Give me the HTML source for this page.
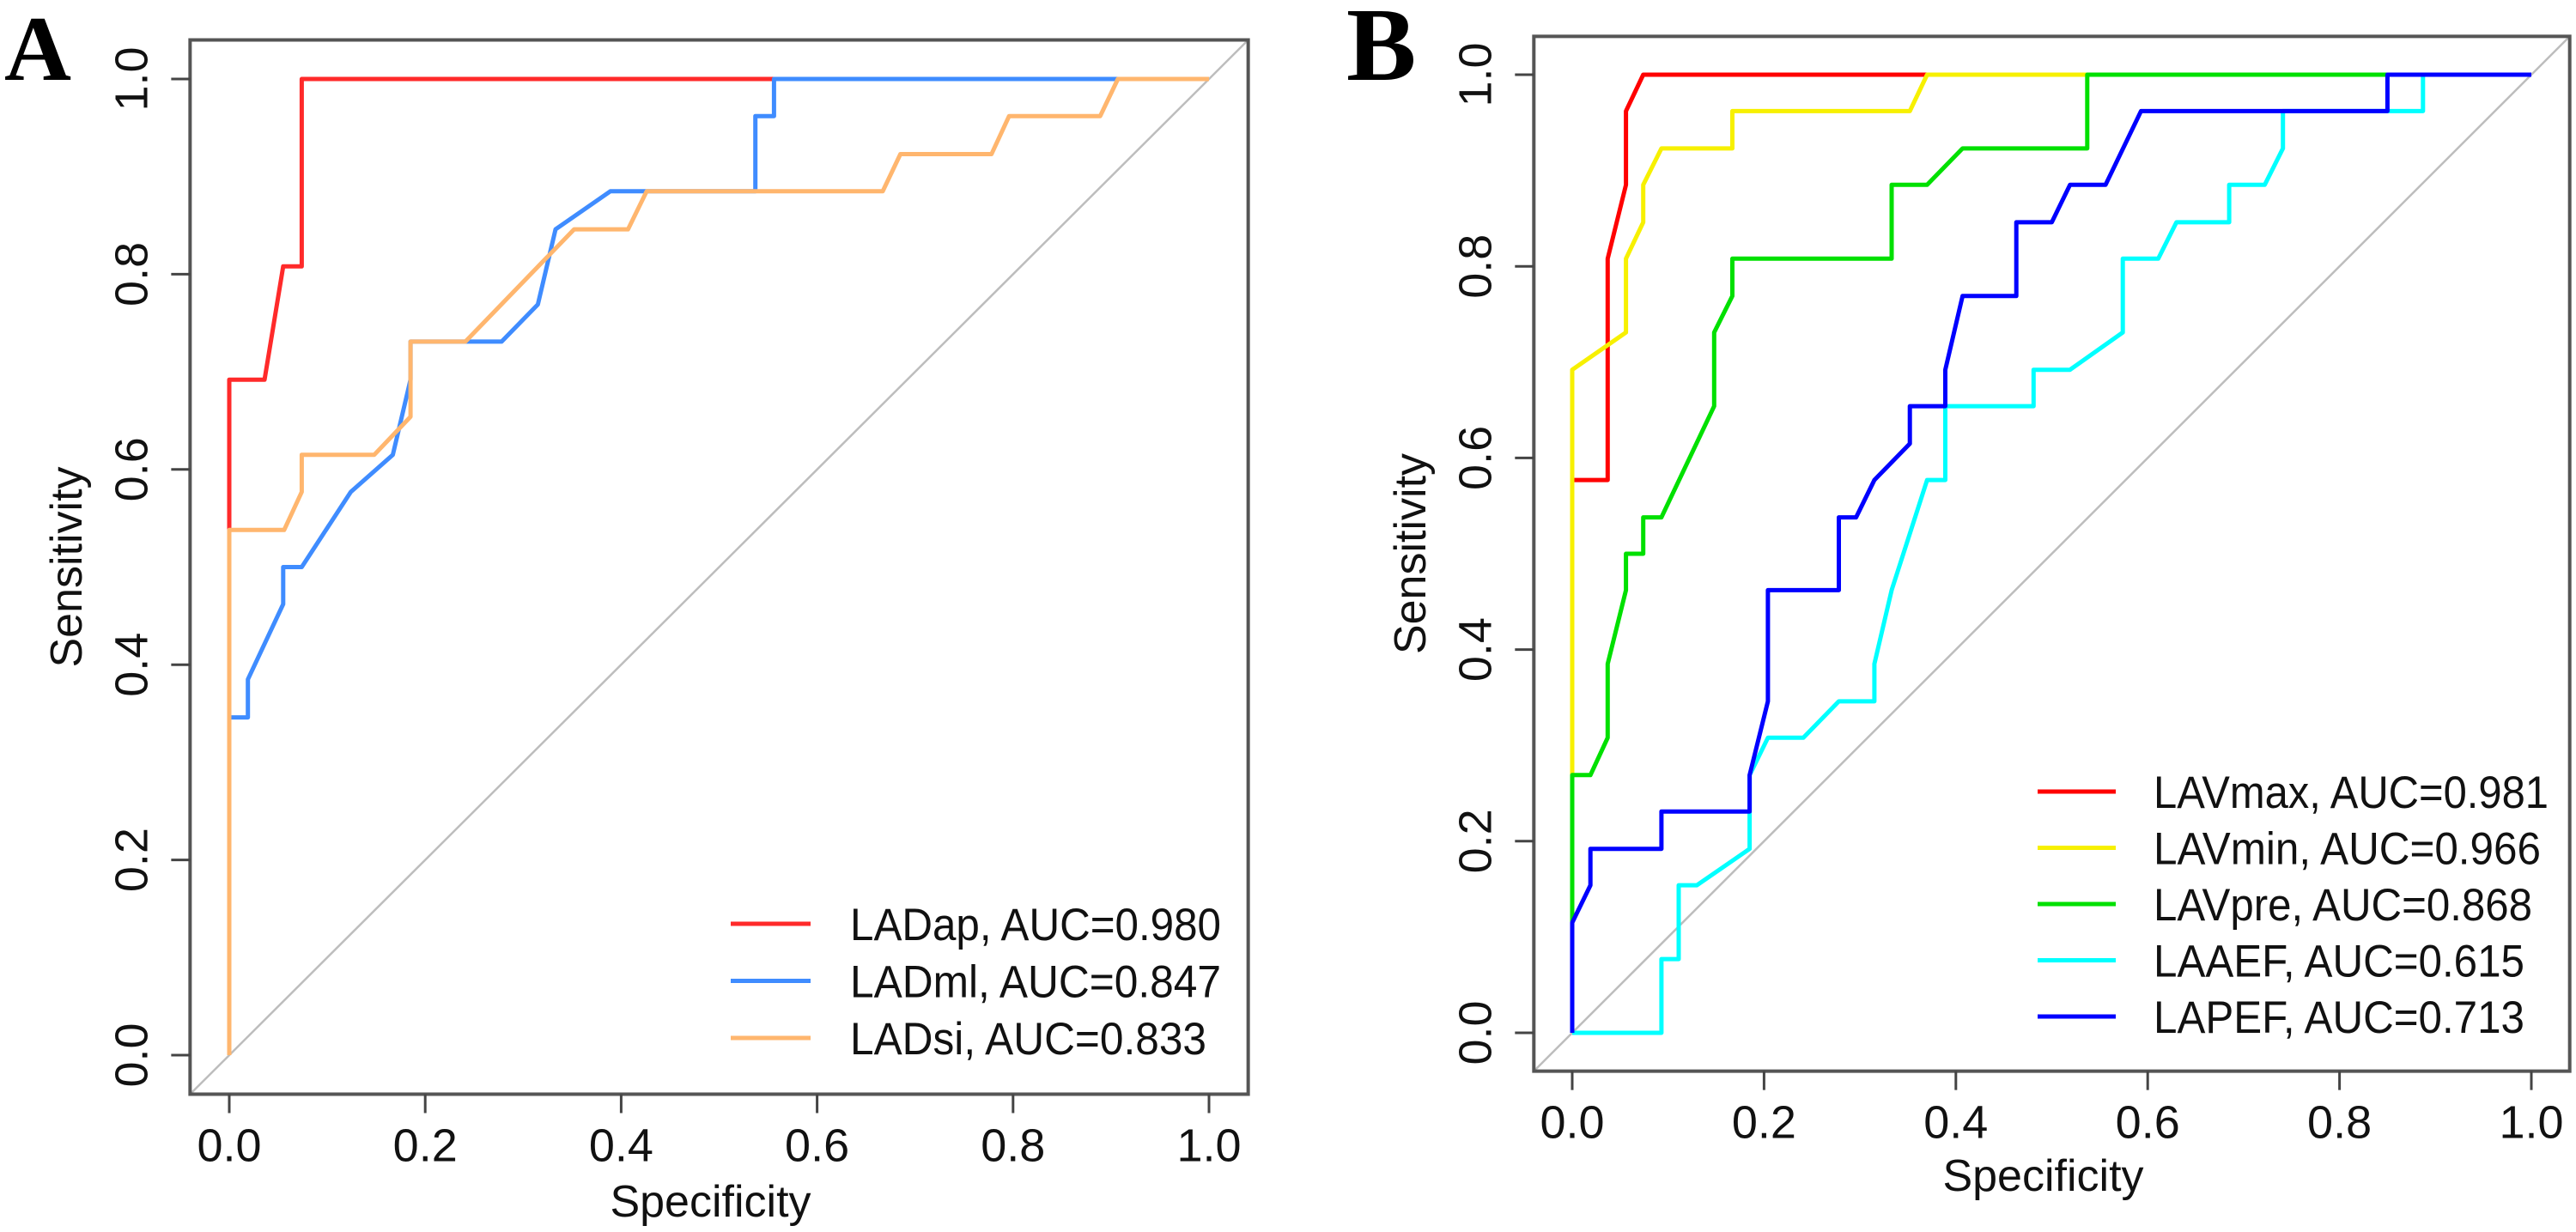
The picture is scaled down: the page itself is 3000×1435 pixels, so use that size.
<!DOCTYPE html>
<html><head><meta charset="utf-8"><style>
html,body{margin:0;padding:0;background:#fff;}
svg{display:block;font-family:"Liberation Sans",Arial,sans-serif;}
</style></head><body>
<svg id="fig" width="3000" height="1435" viewBox="0 0 3000 1435" xmlns="http://www.w3.org/2000/svg">
<text x="5" y="93" font-family="Liberation Serif,serif" font-weight="bold" font-size="108">A</text>
<text x="1568" y="93" font-family="Liberation Serif,serif" font-weight="bold" font-size="122">B</text>
</svg>
<script>
// ---- Panel A data ----
const ticks = [0, 0.2, 0.4, 0.6, 0.8, 1.0];
const tickLabels = ["0.0", "0.2", "0.4", "0.6", "0.8", "1.0"];
const aNames = ["LADap", "LADml", "LADsi"];
const aAUC = ["0.980", "0.847", "0.833"];
const aColors = ["#ff2a2a", "#3f8cff", "#ffb66e"];
const ladapX = [0, 0, 0.036, 0.055, 0.074, 0.074, 1];
const ladapY = [0, 0.692, 0.692, 0.808, 0.808, 1, 1];
const ladmlX = [0, 0, 0.019, 0.019, 0.055, 0.055, 0.074, 0.124, 0.167, 0.185, 0.185, 0.278, 0.315, 0.333, 0.389, 0.537, 0.537, 0.556, 0.556, 1];
const ladmlY = [0, 0.346, 0.346, 0.385, 0.462, 0.5, 0.5, 0.577, 0.615, 0.692, 0.731, 0.731, 0.769, 0.846, 0.885, 0.885, 0.962, 0.962, 1, 1];
const ladsiX = [0, 0, 0.056, 0.074, 0.074, 0.148, 0.185, 0.185, 0.241, 0.352, 0.407, 0.426, 0.667, 0.685, 0.778, 0.796, 0.889, 0.907, 1];
const ladsiY = [0, 0.538, 0.538, 0.577, 0.615, 0.615, 0.654, 0.731, 0.731, 0.846, 0.846, 0.885, 0.885, 0.923, 0.923, 0.962, 0.962, 1, 1];
// ---- Panel B data ----
const bNames = ["LAVmax", "LAVmin", "LAVpre", "LAAEF", "LAPEF"];
const bAUC = ["0.981", "0.966", "0.868", "0.615", "0.713"];
const bColors = ["#ff0000", "#f7f000", "#00e000", "#00ffff", "#0000ff"];
const lavmaxX = [0, 0, 0.037, 0.037, 0.056, 0.056, 0.074, 1];
const lavmaxY = [0, 0.577, 0.577, 0.808, 0.885, 0.962, 1, 1];
const lavminX = [0, 0, 0.056, 0.056, 0.074, 0.074, 0.093, 0.167, 0.167, 0.352, 0.370, 1];
const lavminY = [0, 0.692, 0.731, 0.808, 0.846, 0.885, 0.923, 0.923, 0.962, 0.962, 1, 1];
const lavpreX = [0, 0, 0.019, 0.037, 0.037, 0.056, 0.056, 0.074, 0.074, 0.093, 0.148, 0.148, 0.167, 0.167, 0.333, 0.333, 0.370, 0.407, 0.537, 0.537, 1];
const lavpreY = [0, 0.269, 0.269, 0.308, 0.385, 0.462, 0.5, 0.5, 0.538, 0.538, 0.654, 0.731, 0.769, 0.808, 0.808, 0.885, 0.885, 0.923, 0.923, 1, 1];
const laaefX = [0, 0.093, 0.093, 0.111, 0.111, 0.13, 0.185, 0.185, 0.204, 0.241, 0.278, 0.315, 0.315, 0.333, 0.370, 0.389, 0.389, 0.481, 0.481, 0.519, 0.574, 0.574, 0.611, 0.630, 0.685, 0.685, 0.722, 0.741, 0.741, 0.887, 0.887, 1];
const laaefY = [0, 0, 0.077, 0.077, 0.154, 0.154, 0.192, 0.269, 0.308, 0.308, 0.346, 0.346, 0.385, 0.462, 0.577, 0.577, 0.654, 0.654, 0.692, 0.692, 0.731, 0.808, 0.808, 0.846, 0.846, 0.885, 0.885, 0.923, 0.962, 0.962, 1, 1];
const lapefX = [0, 0, 0.019, 0.019, 0.093, 0.093, 0.185, 0.185, 0.204, 0.204, 0.278, 0.278, 0.296, 0.315, 0.352, 0.352, 0.389, 0.389, 0.407, 0.463, 0.463, 0.5, 0.519, 0.556, 0.593, 0.850, 0.850, 1];
const lapefY = [0, 0.115, 0.154, 0.192, 0.192, 0.231, 0.231, 0.269, 0.346, 0.462, 0.462, 0.538, 0.538, 0.577, 0.615, 0.654, 0.654, 0.692, 0.769, 0.769, 0.846, 0.846, 0.885, 0.885, 0.962, 0.962, 1, 1];

const NS = "http://www.w3.org/2000/svg";
const svg = document.getElementById("fig");
function mk(tag, attrs, parent) {
  const e = document.createElementNS(NS, tag);
  for (const k in attrs) e.setAttribute(k, attrs[k]);
  (parent || svg).appendChild(e);
  return e;
}
function panel(cfg) {
  const g = mk("g", {});
  
  
  const sx = v => cfg.x0 + v * (cfg.x1 - cfg.x0);
  const sy = v => cfg.y0 - v * (cfg.y0 - cfg.y1);
  const padX = 0.04 * (cfg.x1 - cfg.x0), padY = 0.04 * (cfg.y0 - cfg.y1);
  const L = cfg.x0 - padX, R = cfg.x1 + padX, T = cfg.y1 - padY, B = cfg.y0 + padY;
  // diagonal
  const d = mk("line", {x1: L, y1: B, x2: R, y2: T, stroke: "#bdbdbd", "stroke-width": 2.5}, g);
  
  
  // curves
  cfg.series.forEach((s, i) => {
    const pts = s.x.map((v, j) => sx(v).toFixed(1) + "," + sy(s.y[j]).toFixed(1)).join(" ");
    const p = mk("polyline", {points: pts, fill: "none", stroke: s.color, "stroke-width": 5, "stroke-linejoin": "round"}, g);
    
    
  });
  // frame
  const f = mk("rect", {x: L, y: T, width: R - L, height: B - T, fill: "none", stroke: "#555", "stroke-width": 4}, g);
  
  
  // x ticks
  ticks.forEach((t, i) => {
    const tk = mk("line", {x1: sx(t), y1: B, x2: sx(t), y2: B + 22, stroke: "#444", "stroke-width": 3}, g);
    
    
    const lb = mk("text", {x: sx(t), y: B + 78, "text-anchor": "middle", "font-size": 54, fill: "#111"}, g);
    
    
    lb.textContent = tickLabels[i];
    const tk2 = mk("line", {x1: L, y1: sy(t), x2: L - 22, y2: sy(t), stroke: "#444", "stroke-width": 3}, g);
    
    
    const lx = L - 50, ly = sy(t);
    const lb2 = mk("text", {x: lx, y: ly, "text-anchor": "middle", "font-size": 54, fill: "#111", transform: "rotate(-90 " + lx + " " + ly + ")"}, g);
    
    
    lb2.textContent = tickLabels[i];
  });
  const xt = mk("text", {x: (L + R) / 2 - 10, y: cfg.xTitleY, "text-anchor": "middle", "font-size": 52, fill: "#111"}, g);
  
  
  xt.textContent = "Specificity";
  const ytx = cfg.yTitleX, yty = (T + B) / 2;
  const yt = mk("text", {x: ytx, y: yty, "text-anchor": "middle", "font-size": 52, fill: "#111", transform: "rotate(-90 " + ytx + " " + yty + ")"}, g);
  
  
  yt.textContent = "Sensitivity";
  // legend
  cfg.series.forEach((s, i) => {
    const y = cfg.legY0 + i * cfg.legDy;
    const ll = mk("line", {x1: cfg.legX0, y1: y, x2: cfg.legX1, y2: y, stroke: s.color, "stroke-width": 5}, g);
    
    
    const tx = mk("text", {x: cfg.legTx, y: y + 19, "font-size": 53, fill: "#111", textLength: cfg.legW[i], lengthAdjust: "spacingAndGlyphs"}, g);
    
    
    tx.textContent = s.name + ", AUC=" + s.auc;
  });
}
panel({key: "panel-a", x0: 267, x1: 1408, y0: 1229, y1: 92, xTitleY: 1417, yTitleX: 95,
  legX0: 851, legX1: 944, legTx: 990, legY0: 1076, legDy: 66.5, legW: [432, 432, 415],
  series: [
    {name: aNames[0], auc: aAUC[0], color: aColors[0], x: ladapX, y: ladapY},
    {name: aNames[1], auc: aAUC[1], color: aColors[1], x: ladmlX, y: ladmlY},
    {name: aNames[2], auc: aAUC[2], color: aColors[2], x: ladsiX, y: ladsiY}
  ].reverse().reverse()});
panel({key: "panel-b", x0: 1831, x1: 2948, y0: 1203, y1: 87, xTitleY: 1387, yTitleX: 1660,
  legX0: 2373, legX1: 2464, legTx: 2508, legY0: 922, legDy: 65.5, legW: [460, 451, 441, 432, 432],
  series: [
    {name: bNames[0], auc: bAUC[0], color: bColors[0], x: lavmaxX, y: lavmaxY},
    {name: bNames[1], auc: bAUC[1], color: bColors[1], x: lavminX, y: lavminY},
    {name: bNames[2], auc: bAUC[2], color: bColors[2], x: lavpreX, y: lavpreY},
    {name: bNames[3], auc: bAUC[3], color: bColors[3], x: laaefX, y: laaefY},
    {name: bNames[4], auc: bAUC[4], color: bColors[4], x: lapefX, y: lapefY}
  ]});
</script>
</body></html>
